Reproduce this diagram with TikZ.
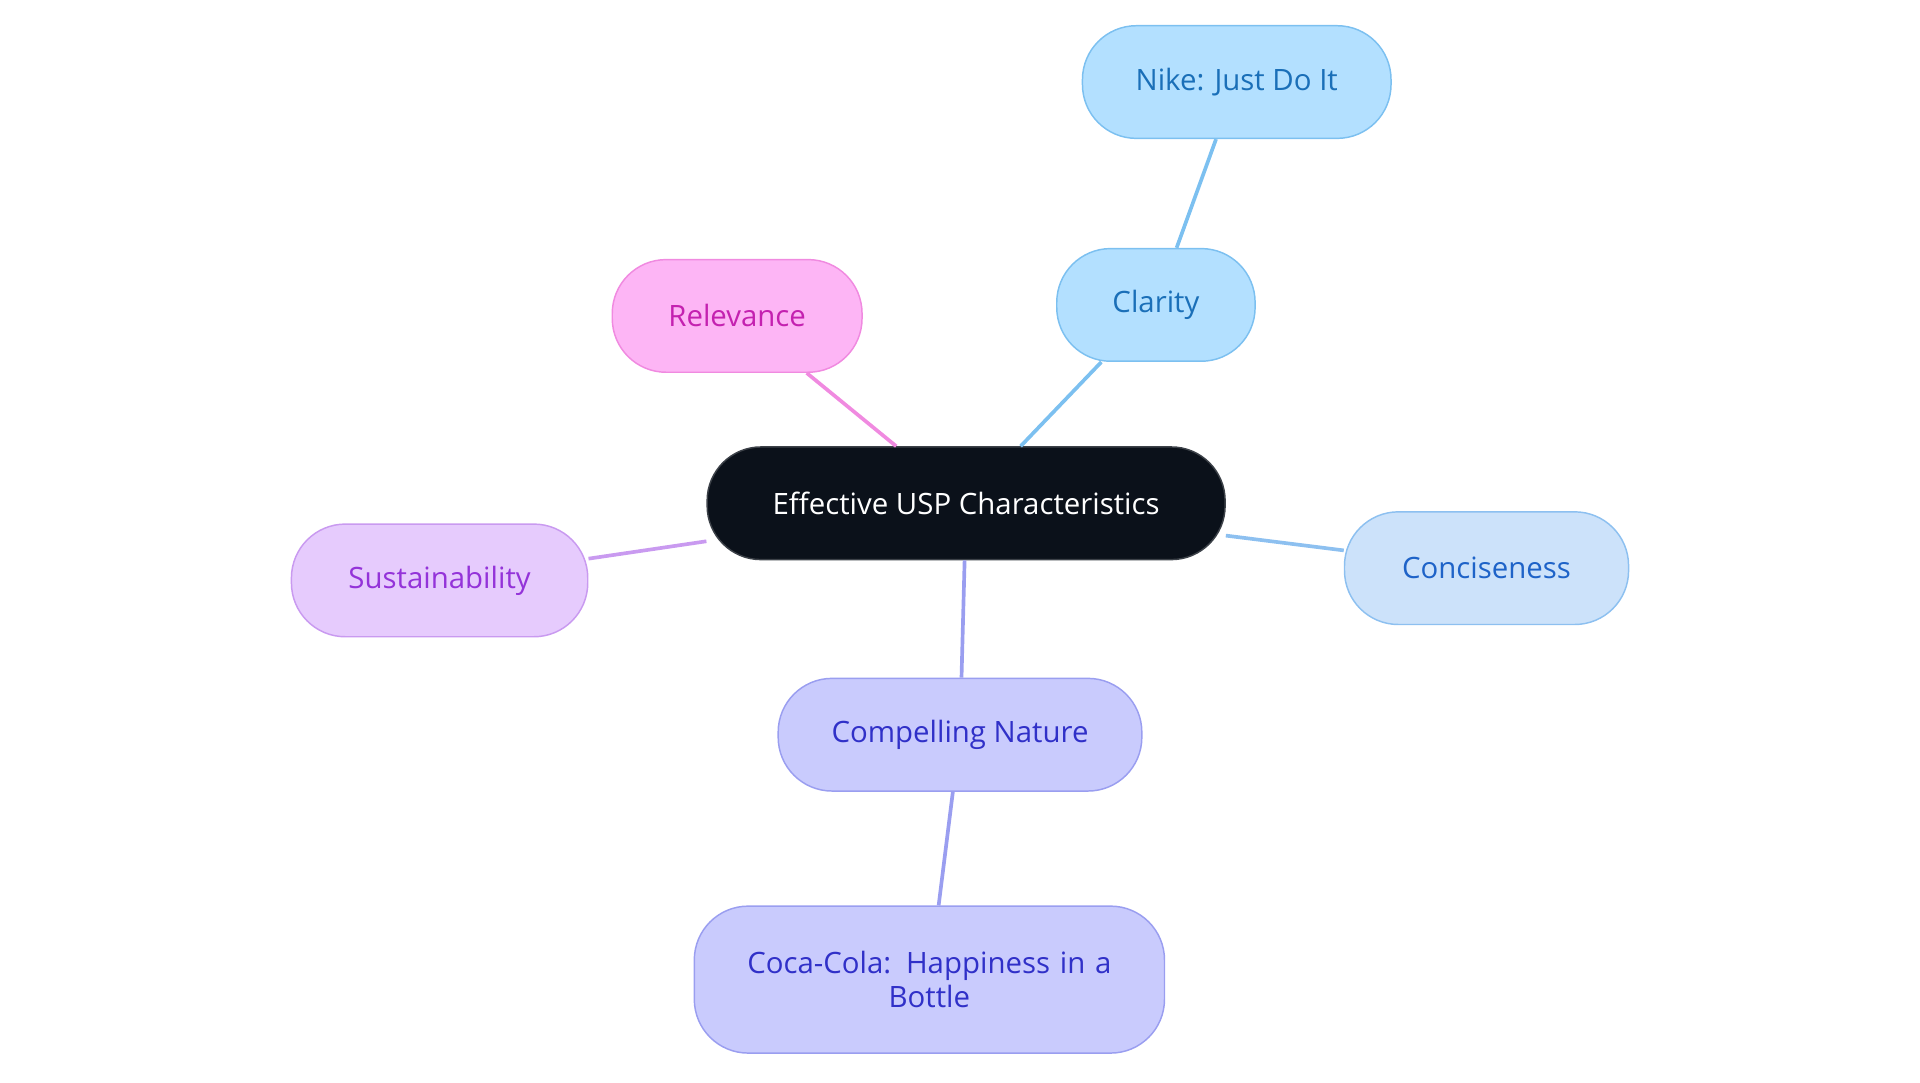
\documentclass[tikz,border=0pt]{standalone}
\usepackage{fontspec}
\setmainfont{Open Sans}
\begin{document}
\begin{tikzpicture}[x=1pt,y=-1pt,
  box/.style={draw,line width=1.2pt,rounded corners=44pt,minimum height=92pt,align=center,font=\fontsize{24}{28}\selectfont,inner sep=0pt},
  edge/.style={line width=3pt}]
\useasboundingbox (0,0) rectangle (1568,884);
\definecolor{cblack}{HTML}{0B111A}
\definecolor{bluef}{HTML}{B3E0FF}\definecolor{blued}{HTML}{7CC0F0}\definecolor{bluet}{HTML}{1A6FB8}
\definecolor{pinkf}{HTML}{FDB5F5}\definecolor{pinkd}{HTML}{F08AE0}\definecolor{pinkt}{HTML}{C421B0}
\definecolor{lbf}{HTML}{CCE2FA}\definecolor{lbd}{HTML}{8DC0F0}\definecolor{lbt}{HTML}{1E63C8}
\definecolor{purf}{HTML}{E6CBFD}\definecolor{purd}{HTML}{C99AF0}\definecolor{purt}{HTML}{9433D9}
\definecolor{vf}{HTML}{C9CBFD}\definecolor{vd}{HTML}{9A9EF0}\definecolor{vt}{HTML}{3030C8}
\node[box,fill=cblack,draw=cblack!80!white,text=white,minimum width=423pt] (c) at (789,411) {Effective USP Characteristics};
\node[box,fill=bluef,draw=blued,text=bluet,minimum width=252pt] (nike) at (1010,67) {Nike: Just Do It};
\node[box,fill=bluef,draw=blued,text=bluet,minimum width=162pt] (cla) at (944,249) {Clarity};
\node[box,fill=pinkf,draw=pinkd,text=pinkt,minimum width=204pt] (rel) at (602,258) {Relevance};
\node[box,fill=lbf,draw=lbd,text=lbt,minimum width=232pt] (con) at (1214,464) {Conciseness};
\node[box,fill=purf,draw=purd,text=purt,minimum width=242pt] (sus) at (359,474) {Sustainability};
\node[box,fill=vf,draw=vd,text=vt,minimum width=297pt] (com) at (784,600) {Compelling Nature};
\node[box,fill=vf,draw=vd,text=vt,minimum width=384pt,minimum height=120pt,text width=330pt] (coca) at (759,800) {Coca-Cola: Happiness in a\\Bottle};
\begin{scope}[on background layer/.style={}]
\end{scope}
\draw[edge,draw=pinkd] (c.north west)++(155,0) coordinate (a1) (rel) -- (a1);
\draw[edge,draw=blued] (cla) -- (c);
\draw[edge,draw=blued] (nike) -- (cla);
\draw[edge,draw=lbd] (c) -- (con);
\draw[edge,draw=purd] (c) -- (sus);
\draw[edge,draw=vd] (c) -- (com);
\draw[edge,draw=vd] (com) -- (coca);
\end{tikzpicture}
\end{document}
